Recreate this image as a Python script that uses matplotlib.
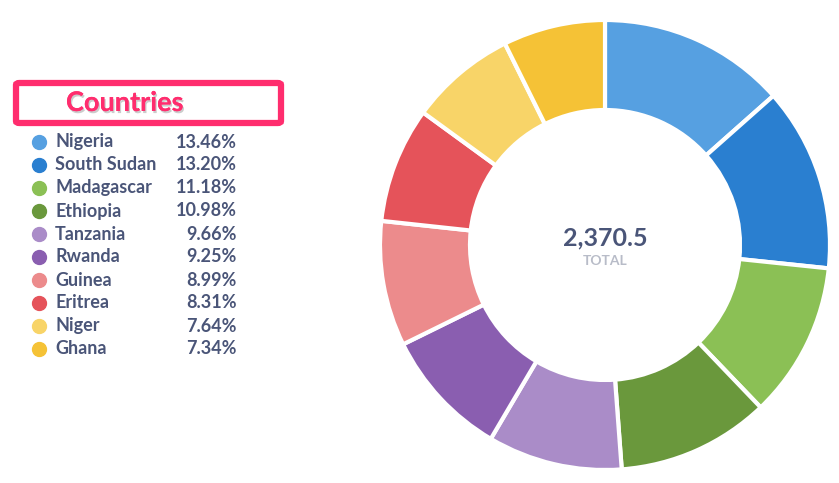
import matplotlib.pyplot as plt
from matplotlib.patches import FancyBboxPatch
from matplotlib.lines import Line2D
import matplotlib.patheffects as pe

countries = ['Nigeria', 'South Sudan', 'Madagascar', 'Ethiopia', 'Tanzania',
             'Rwanda', 'Guinea', 'Eritrea', 'Niger', 'Ghana']
shares = [13.46, 13.20, 11.18, 10.98, 9.66, 9.25, 8.99, 8.31, 7.64, 7.34]
total = 2370.5
colors = ['#56a0e1', '#2a7fd0', '#8bc055', '#6a983c', '#aa8cc8',
          '#8a5eb0', '#ec8b8c', '#e5535a', '#f8d468', '#f5c236']

W, H = 839, 483
plt.rcParams['font.family'] = ['Lato', 'DejaVu Sans']
fig = plt.figure(figsize=(W / 100, H / 100), dpi=100)

# donut
cx, cy, r = 605, 245, 225
ax = fig.add_axes([(cx - r) / W, (H - cy - r) / H, 2 * r / W, 2 * r / H])
ax.pie(shares, colors=colors, startangle=90, counterclock=False, radius=1,
       wedgeprops=dict(width=0.4, edgecolor='white', linewidth=3))
ax.set_xlim(-1, 1)
ax.set_ylim(-1, 1)
ax.set_aspect('equal')
ax.axis('off')
ax.text(0, 0.03, f'{total:,.1f}', ha='center', va='center', fontsize=18,
        fontweight='bold', color='#4a5578')
ax.text(0, -0.07, 'TOTAL', ha='center', va='center', fontsize=10,
        fontweight='bold', color='#b8bcc8')

def px(x, y):
    return x / W, 1 - y / H

# title box
box = FancyBboxPatch(px(16, 123), 265 / W, 40 / H,
                     boxstyle='round,pad=0,rounding_size=0.004',
                     transform=fig.transFigure, facecolor='white',
                     edgecolor='#ff2d6e', linewidth=4.5)
fig.add_artist(box)
t = fig.text(*px(66, 103), 'Countries', ha='left', va='center', fontsize=19.5,
             fontweight='bold', color='#ff2d6e')
t.set_path_effects([pe.withSimplePatchShadow(offset=(1, -1.5), shadow_rgbFace='#aaaaaa', alpha=0.6),
                    pe.Normal()])

# legend
y0, dy = 142, 23.0
for i, (name, s) in enumerate(zip(countries, shares)):
    y = y0 + i * dy
    fig.add_artist(Line2D([px(39, y)[0]], [px(39, y)[1]], transform=fig.transFigure,
                          marker='o', ms=10, color=colors[i], linestyle='none'))
    fig.text(*px(55, y), name, ha='left', va='center', fontsize=13,
             fontweight='bold', color='#4a5578')
    fig.text(*px(237, y), f'{s:.2f}%', ha='right', va='center', fontsize=13,
             fontweight='bold', color='#4a5578')

fig.savefig('out.png', dpi=100)
